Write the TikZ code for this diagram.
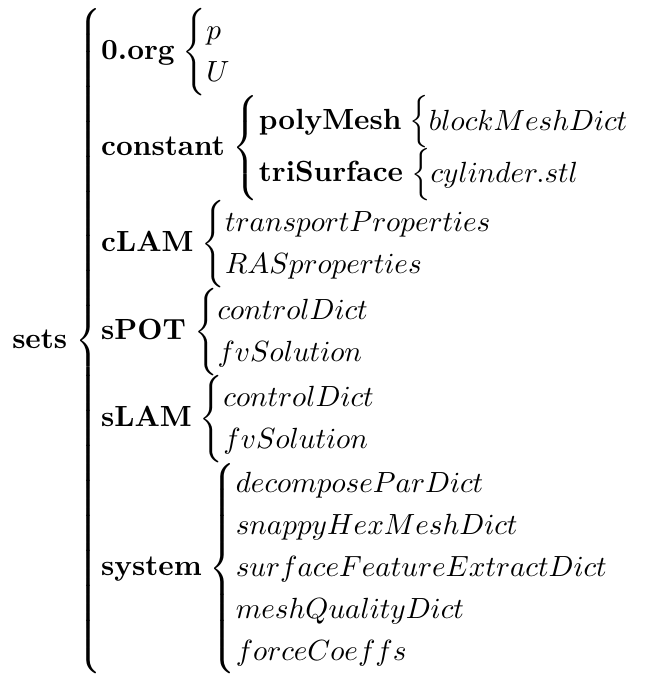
\documentclass[tikz,border=0pt]{standalone}
\usepackage{amsmath}
\usepackage{amssymb}
\usetikzlibrary{positioning}

\newcommand{\dirset}[2]{\textbf{#1}\mskip2mu\left\{\begin{array}{@{}l@{}}#2\end{array}\right.}

\begin{document}
\begin{tikzpicture}
    \renewcommand{\arraystretch}{1.2}
    % case folder tree, set as nested braces
    \node[inner sep=0pt] (tree) {$
        \dirset{sets}{
            \dirset{0.org}{p\\ U}\\
            \dirset{constant}{
                \dirset{polyMesh}{blockMeshDict}\\
                \dirset{triSurface}{cylinder.stl}
            }\\
            \dirset{cLAM}{transportProperties\\ RASproperties}\\
            \dirset{sPOT}{controlDict\\ fvSolution}\\
            \dirset{sLAM}{controlDict\\ fvSolution}\\
            \dirset{system}{
                decomposeParDict\\
                snappyHexMeshDict\\
                surfaceFeatureExtractDict\\
                meshQualityDict\\
                forceCoeffs
            }
        }
    $};
    \useasboundingbox ([xshift=-4pt]tree.south west) rectangle ([xshift=2pt,yshift=2.6pt]tree.north east);
\end{tikzpicture}
\end{document}
